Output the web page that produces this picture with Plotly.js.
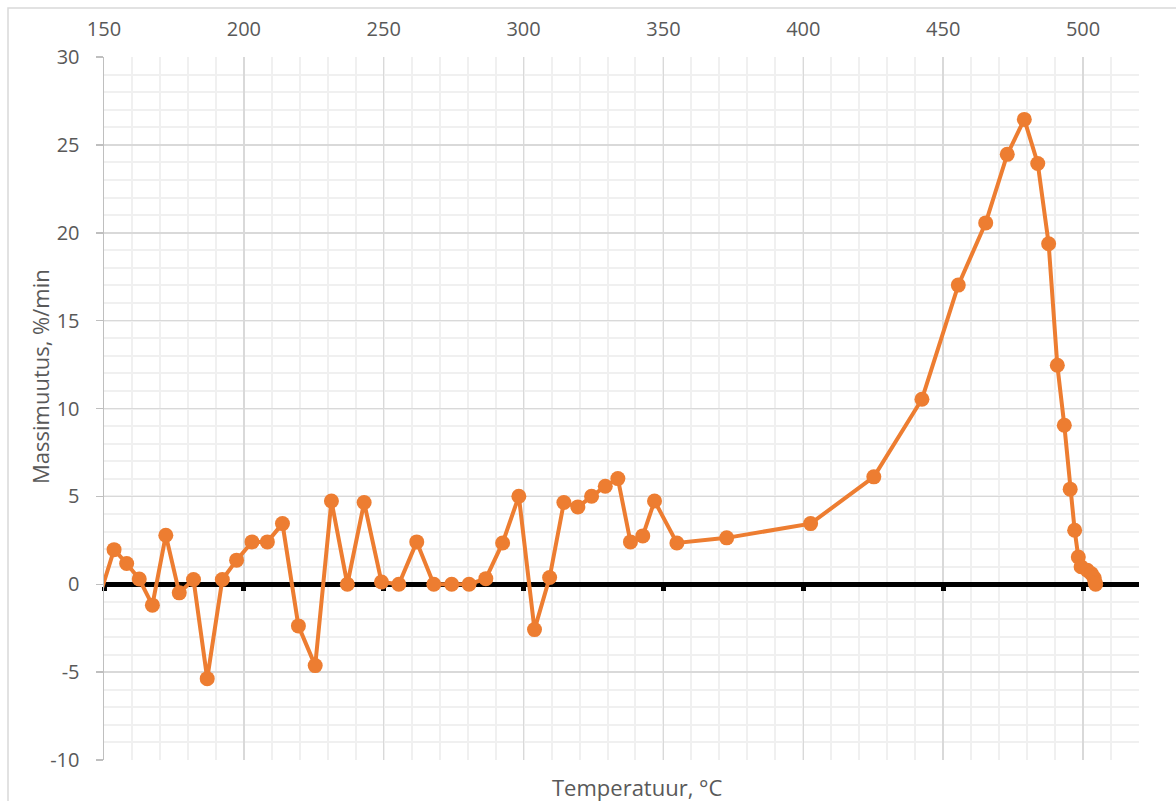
<!DOCTYPE html>
<html>
<head>
<meta charset="utf-8">
<script src="https://cdn.plot.ly/plotly-3.0.1.min.js"></script>
<style>html,body{margin:0;padding:0;background:#fff;}#chart{width:1176px;height:801px;}</style>
</head>
<body>
<div id="chart"></div>
<script>
// Temperature (°C)
const temperature = [147, 153.6, 158.1, 162.6, 167.3, 172.1, 176.9, 182.0, 186.9, 192.3,
  197.4, 202.9, 208.4, 213.8, 219.5, 225.5, 231.3, 237.0, 243.0, 249.2,
  255.4, 261.8, 267.9, 274.3, 280.5, 286.5, 292.5, 298.3, 303.9, 309.3,
  314.4, 319.4, 324.3, 329.2, 333.7, 338.2, 342.6, 346.8, 354.8, 372.6,
  402.6, 425.2, 442.4, 455.4, 465.2, 472.9, 479.0, 483.8, 487.7, 490.8,
  493.3, 495.4, 497.0, 498.3, 499.3, 501.5, 503.0, 504.0, 504.3, 504.5];
// Mass change rate (%/min)
const massChange = [-1.4, 1.97, 1.18, 0.30, -1.19, 2.79, -0.49, 0.27, -5.37, 0.27,
  1.37, 2.41, 2.41, 3.45, -2.37, -4.63, 4.74, 0.0, 4.65, 0.13,
  0.0, 2.41, 0.0, 0.0, 0.0, 0.32, 2.35, 5.01, -2.58, 0.38,
  4.65, 4.40, 5.01, 5.58, 6.01, 2.41, 2.75, 4.74, 2.35, 2.64,
  3.45, 6.11, 10.53, 17.02, 20.56, 24.46, 26.45, 23.94, 19.37, 12.46,
  9.05, 5.41, 3.07, 1.55, 1.0, 0.8, 0.6, 0.35, 0.1, 0.0];
const xTicks = [150, 200, 250, 300, 350, 400, 450, 500];
const yTicks = [-10, -5, 0, 5, 10, 15, 20, 25, 30];
const xTitle = 'Temperatuur, °C';
const yTitle = 'Massimuutus, %/min';

const orange = '#ED7D31';
const txt = '#595959';
const font = 'Open Sans, sans-serif';

const traces = [
  {x: [], y: [], xaxis: 'x2', yaxis: 'y', type: 'scatter', mode: 'lines', showlegend: false, hoverinfo: 'skip'},
  {
    x: temperature, y: massChange, type: 'scatter', mode: 'lines+markers',
    line: {color: orange, width: 4},
    marker: {color: orange, size: 15},
    showlegend: false
  }
];

const layout = {
  width: 1176, height: 801,
  margin: {l: 104, r: 37, t: 57, b: 41},
  paper_bgcolor: '#fff', plot_bgcolor: '#fff',
  font: {family: font, color: txt, size: 20},
  showlegend: false,
  xaxis: {
    range: [150, 520], side: 'top',
    tickvals: xTicks, ticktext: xTicks.map(String),
    ticks: '', ticklabelstandoff: 16,
    tickfont: {family: font, color: txt, size: 20},
    showgrid: true, gridcolor: '#d9d9d9', gridwidth: 1.5,
    minor: {dtick: 10, tick0: 150, showgrid: true, gridcolor: '#f0f0f0', gridwidth: 2, ticks: ''},
    showline: false, zeroline: false
  },
  xaxis2: {
    range: [150, 520], overlaying: 'x', anchor: 'free', position: 0.25, side: 'bottom',
    tickvals: xTicks, showticklabels: false,
    ticks: 'outside', ticklen: 4, tickwidth: 5, tickcolor: '#000',
    showline: true, linecolor: '#000', linewidth: 5,
    showgrid: false, zeroline: false, layer: 'below traces'
  },
  yaxis: {
    range: [-10, 30],
    tickvals: yTicks, ticktext: yTicks.map(String),
    ticks: 'outside', ticklen: 7, tickwidth: 1.5, tickcolor: '#bfbfbf',
    ticklabelstandoff: 12,
    tickfont: {family: font, color: txt, size: 20},
    showgrid: true, gridcolor: '#d9d9d9', gridwidth: 1.5,
    minor: {dtick: 1, tick0: 0, showgrid: true, gridcolor: '#f0f0f0', gridwidth: 2, ticks: ''},
    showline: true, linecolor: '#bfbfbf', linewidth: 1.5,
    zeroline: false
  },
  annotations: [
    {text: xTitle, xref: 'paper', yref: 'paper', x: (637 - 104) / 1035, y: -(787 - 760) / 703,
     xanchor: 'center', yanchor: 'middle', showarrow: false, font: {family: font, color: txt, size: 22}},
    {text: yTitle, xref: 'paper', yref: 'paper', x: (40 - 104) / 1035, y: (760 - 377) / 703,
     xanchor: 'center', yanchor: 'middle', textangle: -90, showarrow: false, font: {family: font, color: txt, size: 22}}
  ],
  shapes: [
    {type: 'rect', xref: 'paper', yref: 'paper', x0: (8 - 104) / 1035, x1: 1.3, y0: -0.3, y1: 1 + 49 / 703,
     line: {color: '#d9d9d9', width: 1.5}, fillcolor: 'rgba(0,0,0,0)', layer: 'below'}
  ]
};

Plotly.newPlot('chart', traces, layout, {displayModeBar: false, staticPlot: true});
</script>
</body>
</html>
